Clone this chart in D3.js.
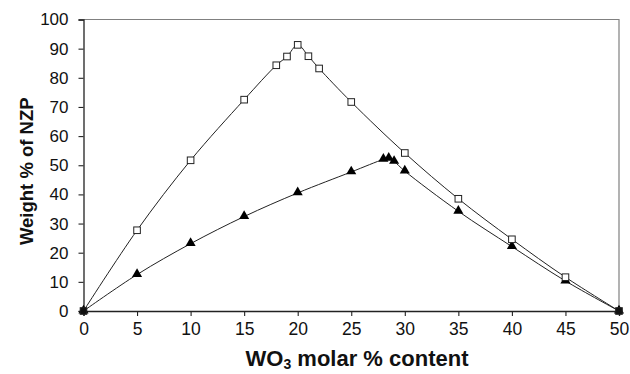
<!DOCTYPE html>
<html>
<head>
<meta charset="utf-8">
<script src="https://cdn.jsdelivr.net/npm/d3@7"></script>
<style>
  html, body { margin: 0; padding: 0; background: #fff; }
  svg { display: block; font-family: "Liberation Sans", Arial, sans-serif; }
</style>
</head>
<body>
<svg id="chart" width="630" height="374"></svg>
<script>
// WO3 content (molar %) vs. weight % of NZP phase
const squareX = [0, 5, 10, 15, 18, 19, 20, 21, 22, 25, 30, 35, 40, 45, 50];
const squareY = [0, 27.7, 51.7, 72.5, 84.3, 87.3, 91.3, 87.4, 83.2, 71.7, 54.2, 38.5, 24.6, 11.6, 0];
const triangleX = [0, 5, 10, 15, 20, 25, 28, 28.5, 29, 30, 35, 40, 45, 50];
const triangleY = [0, 12.5, 23.1, 32.4, 40.5, 47.7, 52.0, 52.4, 51.3, 48.0, 34.2, 22.1, 10.3, 0];
const xTicks = [0, 5, 10, 15, 20, 25, 30, 35, 40, 45, 50];
const yTicks = [0, 10, 20, 30, 40, 50, 60, 70, 80, 90, 100];

const svg = d3.select("#chart");
const m = { left: 83.5, right: 619, top: 19.5, bottom: 311 };

const x = d3.scaleLinear().domain([0, 50]).range([m.left, m.right]);
const y = d3.scaleLinear().domain([0, 100]).range([m.bottom, m.top]);

// frame: light top/right border
svg.append("path")
  .attr("d", `M${m.left},${m.top}H${m.right}V${m.bottom}`)
  .attr("fill", "none").attr("stroke", "#808080").attr("stroke-width", 1.2);

const xAxis = svg.append("g")
  .attr("transform", `translate(0,${m.bottom})`)
  .call(d3.axisBottom(x).tickValues(xTicks).tickSize(5).tickPadding(7).tickFormat(d3.format("d")));
const yAxis = svg.append("g")
  .attr("transform", `translate(${m.left},0)`)
  .call(d3.axisLeft(y).tickValues(yTicks).tickSize(5).tickPadding(10).tickFormat(d3.format("d")));

[xAxis, yAxis].forEach(g => {
  g.select(".domain").attr("stroke", "#222").attr("stroke-width", 1.3);
  g.selectAll(".tick line").attr("stroke", "#222").attr("stroke-width", 1.1);
  g.selectAll(".tick text")
    .attr("fill", "#111")
    .style("font-family", "'Liberation Sans', Arial, sans-serif");
});
xAxis.selectAll(".tick text").style("font-size", "17.5px");
yAxis.selectAll(".tick text").style("font-size", "17px");

const line = d3.line()
  .x(d => x(d[0])).y(d => y(d[1]))
  .curve(d3.curveCatmullRom.alpha(0.5));

const sq = squareX.map((v, i) => [v, squareY[i]]);
const tr = triangleX.map((v, i) => [v, triangleY[i]]);

svg.append("path").datum(sq).attr("d", line)
  .attr("fill", "none").attr("stroke", "#222").attr("stroke-width", 1);
svg.append("path").datum(tr).attr("d", line)
  .attr("fill", "none").attr("stroke", "#222").attr("stroke-width", 1);

// triangle markers
const triSym = d3.symbol().type(d3.symbolTriangle).size(44);
svg.append("g").selectAll("path").data(tr).join("path")
  .attr("transform", d => `translate(${x(d[0])},${y(d[1]) - 0.5})`)
  .attr("d", triSym)
  .attr("fill", "#000");

// hollow square markers
svg.append("g").selectAll("rect").data(sq).join("rect")
  .attr("x", d => x(d[0]) - 3.3).attr("y", d => y(d[1]) - 3.3)
  .attr("width", 6.6).attr("height", 6.6)
  .attr("fill", d => (d[1] === 0 ? "#111" : "#fff"))
  .attr("stroke", "#222").attr("stroke-width", 1);

// axis titles
svg.append("text")
  .attr("transform", `translate(33,${(m.top + m.bottom) / 2 + 6}) rotate(-90)`)
  .attr("text-anchor", "middle")
  .style("font-size", "18.5px").style("font-weight", "bold").attr("fill", "#111")
  .text("Weight % of NZP");

const xt = svg.append("text")
  .attr("x", 357).attr("y", 366)
  .attr("text-anchor", "middle")
  .style("font-size", "22px").style("font-weight", "bold").attr("fill", "#111");
xt.append("tspan").text("WO");
xt.append("tspan").text("3").style("font-size", "14px").attr("dy", 3);
xt.append("tspan").text(" molar % content").attr("dy", -3);
</script>
</body>
</html>
